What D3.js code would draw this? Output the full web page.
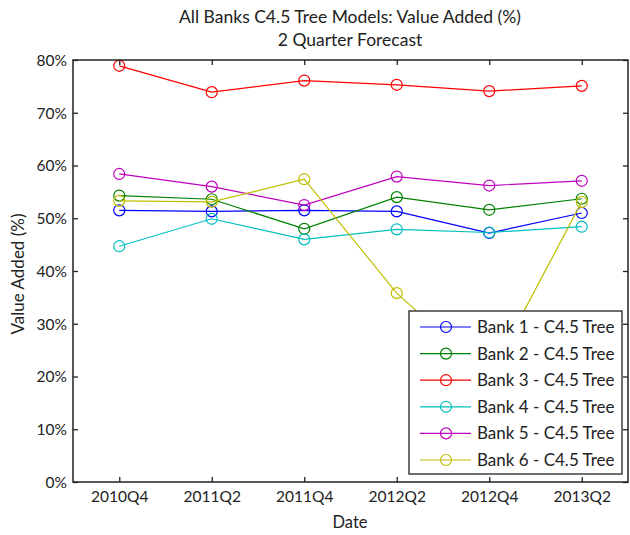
<!DOCTYPE html>
<html><head><meta charset="utf-8">
<script src="https://cdn.jsdelivr.net/npm/d3@7"></script>
<style>body{margin:0;background:#fff}svg{display:block}text{font-family:Lato,"Open Sans",sans-serif;fill:#222}</style>
</head><body><svg id="c" width="630" height="535"></svg>
<script>
const categories = ["2010Q4","2011Q2","2011Q4","2012Q2","2012Q4","2013Q2"];
const seriesNames = ["Bank 1 - C4.5 Tree","Bank 2 - C4.5 Tree","Bank 3 - C4.5 Tree","Bank 4 - C4.5 Tree","Bank 5 - C4.5 Tree","Bank 6 - C4.5 Tree"];
const bank1 = [51.5, 51.3, 51.5, 51.3, 47.2, 51.0];
const bank2 = [54.3, 53.6, 48.0, 54.0, 51.6, 53.7];
const bank3 = [78.9, 73.9, 76.1, 75.3, 74.1, 75.1];
const bank4 = [44.7, 49.9, 46.0, 47.9, 47.3, 48.4];
const bank5 = [58.4, 56.0, 52.5, 57.9, 56.2, 57.1];
const bank6 = [53.3, 53.1, 57.4, 35.8, 20.0, 53.1];
const yTicks = [0,10,20,30,40,50,60,70,80];
const colors = ["#0000ff","#008000","#ff0000","#00bfbf","#bf00bf","#bfbf00"];
const series = [bank1,bank2,bank3,bank4,bank5,bank6];

const svg = d3.select("#c");
const L=73,R=628,T=60,B=482;
const x = d3.scaleLinear().domain([0.5,6.5]).range([L,R]);
const y = d3.scaleLinear().domain([0,80]).range([B,T]);
const idx = categories.map((c,i)=>i+1);

// axes
const g = svg.append("g");
const ax = d3.axisBottom(x).tickValues(idx).tickFormat((d)=>categories[d-1]).tickSizeInner(-5).tickSizeOuter(0).tickPadding(9);
const gx = g.append("g").attr("transform",`translate(0,${B})`).call(ax);
const axT = d3.axisTop(x).tickValues(idx).tickFormat("").tickSizeInner(-5).tickSizeOuter(0);
const gxt = g.append("g").attr("transform",`translate(0,${T})`).call(axT);
const ay = d3.axisLeft(y).tickValues(yTicks).tickFormat(d=>d+"%").tickSizeInner(-5).tickSizeOuter(0).tickPadding(6);
const gy = g.append("g").attr("transform",`translate(${L},0)`).call(ay);
const ayR = d3.axisRight(y).tickValues(yTicks).tickFormat("").tickSizeInner(-5).tickSizeOuter(0);
const gyr = g.append("g").attr("transform",`translate(${R},0)`).call(ayR);
[gx,gxt,gy,gyr].forEach(a=>{a.selectAll("path").remove();a.selectAll("line").attr("stroke","#222").attr("stroke-width",1.3);a.selectAll("text").style("font-size","15.5px").attr("fill","#222");});
gy.selectAll("text").attr("dy","0.35em");

// lines
const line = d3.line().x((d,i)=>x(i+1)).y(d=>y(d));
series.forEach((s,k)=>{
  svg.append("path").datum(s).attr("d",line).attr("fill","none").attr("stroke",colors[k]).attr("stroke-width",1.2);
  svg.selectAll(null).data(s).enter().append("circle").attr("cx",(d,i)=>x(i+1)).attr("cy",d=>y(d)).attr("r",5.5).attr("fill","none").attr("stroke",colors[k]).attr("stroke-width",1.2);
});

// box
svg.append("rect").attr("x",L).attr("y",T).attr("width",R-L).attr("height",B-T).attr("fill","none").attr("stroke","#222").attr("stroke-width",1.5);

// legend
const lg = svg.append("g");
lg.append("rect").attr("x",409).attr("y",311).attr("width",213).attr("height",163).attr("fill","#fff").attr("stroke","#222").attr("stroke-width",1.3);
seriesNames.forEach((n,k)=>{
  const yy = 327 + k*26.6;
  lg.append("line").attr("x1",420).attr("x2",471).attr("y1",yy).attr("y2",yy).attr("stroke",colors[k]).attr("stroke-width",1.2);
  lg.append("circle").attr("cx",446).attr("cy",yy).attr("r",5.5).attr("fill","none").attr("stroke",colors[k]).attr("stroke-width",1.2);
  lg.append("text").attr("x",477).attr("y",yy).attr("dy","0.35em").style("font-size","17px").text(n);
});

// titles
svg.append("text").attr("x",350).attr("y",17).attr("dy","0.35em").attr("text-anchor","middle").style("font-size","17.5px").text("All Banks C4.5 Tree Models: Value Added (%)");
svg.append("text").attr("x",350).attr("y",40).attr("dy","0.35em").attr("text-anchor","middle").style("font-size","17.5px").text("2 Quarter Forecast");
svg.append("text").attr("x",350).attr("y",522).attr("dy","0.35em").attr("text-anchor","middle").style("font-size","16.5px").text("Date");
svg.append("text").attr("transform","translate(18,274) rotate(-90)").attr("dy","0.35em").attr("text-anchor","middle").style("font-size","17px").text("Value Added (%)");
</script></body></html>
